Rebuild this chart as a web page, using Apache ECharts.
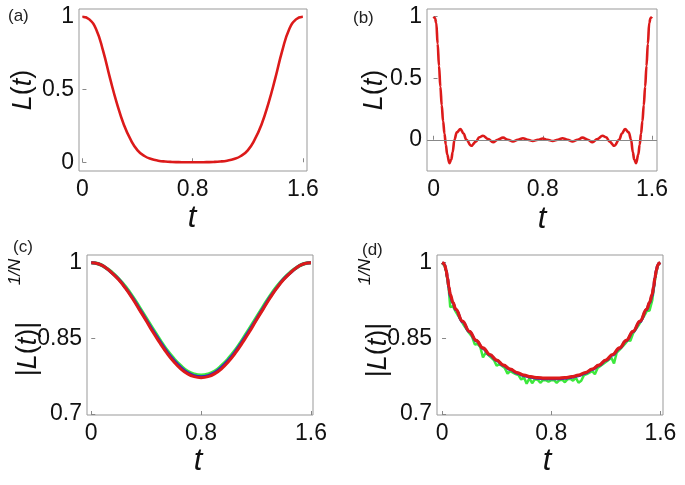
<!DOCTYPE html>
<html><head><meta charset="utf-8">
<script src="https://cdn.jsdelivr.net/npm/echarts@6/dist/echarts.min.js"></script>
<style>html,body{margin:0;padding:0;background:#fff}#c{width:685px;height:485px}</style>
</head><body><div id="c"></div>
<script>
// ---------- data ----------
const xTicks = [0, 0.8, 1.6];
const yTicksAB = [0, 0.5, 1];
const yTicksCD = [0.7, 0.85, 1];

// (a)
const tA = [0,0.05,0.1,0.15,0.2,0.25,0.3,0.35,0.4,0.45,0.5,0.55,0.6,0.65,0.7,0.75,0.8,0.85,0.9,0.95,1.0,1.05,1.1,1.15,1.2,1.25,1.3,1.35,1.4,1.45,1.5,1.55,1.6];
const LA = [1.0,0.982,0.912,0.765,0.578,0.405,0.26,0.155,0.082,0.043,0.022,0.011,0.005,0.002,0.001,0,0,0,0.001,0.002,0.005,0.011,0.022,0.043,0.082,0.155,0.26,0.405,0.578,0.765,0.912,0.982,1.0];

// (b)
const tB = [0,0.01,0.02,0.03,0.04,0.05,0.06,0.07,0.08,0.09,0.10,0.116,0.13,0.14,0.153,0.17,0.197,0.22,0.24,0.276,0.31,0.335,0.362,0.40,0.436,0.47,0.509,0.545,0.582,0.618,0.655,0.69,0.727,0.765,0.80,0.835,0.873,0.91,0.945,0.982,1.018,1.055,1.091,1.13,1.164,1.20,1.238,1.265,1.29,1.324,1.36,1.38,1.403,1.43,1.447,1.46,1.47,1.484,1.50,1.51,1.52,1.53,1.54,1.55,1.56,1.57,1.58,1.59,1.60];
const LB = [1.0,0.99,0.95,0.78,0.60,0.43,0.28,0.15,0.05,-0.04,-0.12,-0.19,-0.16,-0.10,0.0,0.06,0.087,0.05,0.0,-0.049,-0.015,0.02,0.033,0.005,-0.02,0.0,0.017,0.0,-0.013,0.0,0.012,0.0,-0.010,0.0,0.010,0.0,-0.010,0.0,0.012,0.0,-0.013,0.0,0.017,0.0,-0.02,0.005,0.033,0.02,-0.015,-0.049,0.0,0.05,0.087,0.06,0.0,-0.10,-0.16,-0.19,-0.12,-0.04,0.05,0.15,0.28,0.43,0.60,0.78,0.95,0.99,1.0];

// (c)
const tC = tA;
const LC_green = [1.000,0.998,0.991,0.981,0.968,0.952,0.933,0.912,0.890,0.868,0.847,0.827,0.810,0.796,0.785,0.779,0.777,0.779,0.785,0.796,0.810,0.827,0.847,0.868,0.890,0.912,0.933,0.952,0.968,0.981,0.991,0.998,1.000];
const LC_blue  = [1.000,0.998,0.991,0.980,0.967,0.950,0.931,0.909,0.887,0.865,0.844,0.824,0.807,0.793,0.782,0.776,0.774,0.776,0.782,0.793,0.807,0.824,0.844,0.865,0.887,0.909,0.931,0.950,0.967,0.980,0.991,0.998,1.000];
const LC_red   = [1.000,0.998,0.991,0.980,0.966,0.949,0.929,0.907,0.885,0.862,0.841,0.821,0.804,0.790,0.780,0.774,0.772,0.774,0.780,0.790,0.804,0.821,0.841,0.862,0.885,0.907,0.929,0.949,0.966,0.980,0.991,0.998,1.000];

// (d)
const tD = [0,0.01,0.02,0.03,0.04,0.05,0.06,0.08,0.1,0.15,0.2,0.25,0.3,0.35,0.4,0.45,0.5,0.55,0.6,0.65,0.7,0.75,0.8,0.85,0.9,0.95,1.0,1.05,1.1,1.15,1.2,1.25,1.3,1.35,1.4,1.45,1.5,1.52,1.54,1.55,1.56,1.57,1.58,1.59,1.6];
const LD_red  = [1.0,0.999,0.995,0.985,0.970,0.952,0.938,0.921,0.908,0.884,0.864,0.846,0.831,0.818,0.807,0.797,0.789,0.782,0.777,0.774,0.772,0.771,0.771,0.771,0.772,0.774,0.777,0.782,0.789,0.797,0.807,0.818,0.831,0.846,0.864,0.884,0.908,0.921,0.938,0.952,0.970,0.985,0.995,0.999,1.0];
const LD_blue = [1.0,0.999,0.995,0.985,0.970,0.950,0.934,0.920,0.907,0.883,0.863,0.845,0.830,0.817,0.806,0.796,0.788,0.781,0.776,0.773,0.771,0.770,0.770,0.770,0.771,0.773,0.776,0.781,0.788,0.796,0.806,0.817,0.830,0.845,0.863,0.883,0.907,0.920,0.934,0.950,0.970,0.985,0.995,0.999,1.0];
const tDg = [0,0.01,0.02,0.03,0.04,0.05,0.06,0.08,0.10,0.12,0.14,0.16,0.18,0.20,0.22,0.24,0.26,0.28,0.30,0.32,0.34,0.36,0.38,0.40,0.42,0.44,0.46,0.48,0.50,0.52,0.54,0.56,0.58,0.60,0.62,0.64,0.66,0.68,0.70,0.72,0.74,0.76,0.78,0.80,0.82,0.84,0.86,0.88,0.90,0.92,0.94,0.96,0.98,1.00,1.02,1.04,1.06,1.08,1.10,1.12,1.14,1.16,1.18,1.20,1.22,1.24,1.26,1.28,1.30,1.32,1.34,1.36,1.38,1.40,1.42,1.44,1.46,1.48,1.50,1.52,1.54,1.55,1.56,1.57,1.58,1.59,1.60];
const LD_green = [1.0,0.998,0.993,0.982,0.965,0.945,0.912,0.914,0.903,0.894,0.885,0.876,0.868,0.860,0.853,0.838,0.839,0.833,0.812,0.822,0.817,0.812,0.807,0.796,0.799,0.795,0.791,0.780,0.785,0.782,0.779,0.777,0.768,0.773,0.760,0.771,0.761,0.769,0.768,0.762,0.767,0.767,0.764,0.767,0.767,0.762,0.767,0.768,0.763,0.769,0.770,0.766,0.772,0.762,0.766,0.777,0.779,0.782,0.785,0.779,0.791,0.795,0.799,0.803,0.807,0.812,0.800,0.822,0.827,0.833,0.839,0.846,0.845,0.860,0.868,0.876,0.885,0.894,0.904,0.905,0.925,0.945,0.965,0.982,0.993,0.998,1.0];

// ---------- chart ----------
const RED = '#dc1a1a', GREEN = '#3de83d', BLUE = '#2a2acc';
const FONT = '"Liberation Sans", Arial, sans-serif';
const zip = (xs, ys) => xs.map((x, i) => [x, ys[i]]);

const grids = [
  {left: 79, top: 9, width: 228, height: 162},
  {left: 427, top: 9, width: 230, height: 162},
  {left: 87, top: 255, width: 226, height: 160},
  {left: 437, top: 255, width: 226, height: 160}
];
const xr = [[-0.025, 1.63], [-0.048, 1.637], [-0.031, 1.615], [-0.037, 1.619]];
const yr = [[-0.06, 1.053], [-0.254, 1.063], [0.698, 1.0153], [0.698, 1.0153]];
const yt = [yTicksAB, yTicksAB, yTicksCD, yTicksCD];

const tickStyle = {show: true, inside: true, length: 4, lineStyle: {color: '#888', width: 1}};
const labStyle = {fontSize: 23, color: '#111', fontFamily: FONT};

const option = {
  animation: false,
  backgroundColor: '#fff',
  grid: grids.map(g => Object.assign({show: true, borderColor: '#999', borderWidth: 1, containLabel: false}, g)),
  xAxis: grids.map((g, i) => ({
    type: 'value', gridIndex: i, min: xr[i][0], max: xr[i][1],
    axisLine: {show: false}, splitLine: {show: false},
    axisTick: Object.assign({customValues: xTicks}, tickStyle),
    axisLabel: Object.assign({customValues: xTicks, margin: 7, formatter: v => String(v)}, labStyle)
  })),
  yAxis: grids.map((g, i) => ({
    type: 'value', gridIndex: i, min: yr[i][0], max: yr[i][1],
    axisLine: {show: false}, splitLine: {show: false},
    axisTick: Object.assign({customValues: yt[i]}, tickStyle),
    axisLabel: Object.assign({customValues: yt[i], margin: 5, formatter: v => String(v)}, labStyle)
  })),
  series: [
    {type: 'line', xAxisIndex: 0, yAxisIndex: 0, data: zip(tA, LA), smooth: 0.5, showSymbol: false,
     lineStyle: {color: RED, width: 2.6}},
    {type: 'line', xAxisIndex: 1, yAxisIndex: 1, data: zip(tB, LB), smooth: 0.4, smoothMonotone: 'x', showSymbol: false,
     lineStyle: {color: RED, width: 2.6},
     markLine: {silent: true, symbol: 'none', label: {show: false}, lineStyle: {color: '#888', width: 1, type: 'solid'},
       data: [{yAxis: 0}]}, z: 3},
    {type: 'line', xAxisIndex: 2, yAxisIndex: 2, data: zip(tC, LC_green), smooth: 0.5, showSymbol: false,
     lineStyle: {color: GREEN, width: 3.5}},
    {type: 'line', xAxisIndex: 2, yAxisIndex: 2, data: zip(tC, LC_blue), smooth: 0.5, showSymbol: false,
     lineStyle: {color: BLUE, width: 3}},
    {type: 'line', xAxisIndex: 2, yAxisIndex: 2, data: zip(tC, LC_red), smooth: 0.5, showSymbol: false,
     lineStyle: {color: RED, width: 3}},
    {type: 'line', xAxisIndex: 3, yAxisIndex: 3, data: zip(tDg, LD_green), smooth: false, showSymbol: false,
     lineStyle: {color: GREEN, width: 2.5}},
    {type: 'line', xAxisIndex: 3, yAxisIndex: 3, data: zip(tD, LD_blue), smooth: 0.4, smoothMonotone: 'x', showSymbol: false,
     lineStyle: {color: BLUE, width: 3}},
    {type: 'line', xAxisIndex: 3, yAxisIndex: 3, data: zip(tD, LD_red), smooth: 0.4, smoothMonotone: 'x', showSymbol: false,
     lineStyle: {color: RED, width: 3.2}}
  ],
  graphic: []
};

const panelLabel = (txt, x, y) => ({type: 'text', x: x, y: y, style: {text: txt, fontSize: 17, fontFamily: FONT, fill: '#222', align: 'left', verticalAlign: 'middle'}});
const tLabel = (x, y) => ({type: 'text', x: x, y: y, style: {text: 't', fontSize: 31, fontStyle: 'italic', fontFamily: FONT, fill: '#111', align: 'center', verticalAlign: 'middle'}});
const richDef = {
  i: {fontSize: 27, fontStyle: 'italic', fontFamily: FONT, fill: '#111'},
  n: {fontSize: 27, fontFamily: FONT, fill: '#111'}
};
const LtLabel = (x, y) => ({type: 'text', x: x, y: y, rotation: Math.PI / 2,
  style: {text: '{i|L}{n|(}{i|t}{n|)}', rich: richDef, align: 'center', verticalAlign: 'middle'}});
const absLabel = (x, y, sx, sy) => [
  {type: 'text', x: x, y: y, rotation: Math.PI / 2,
   style: {text: '{n||}{i|L}{n|(}{i|t}{n|)|}', rich: richDef, align: 'center', verticalAlign: 'middle'}},
  {type: 'text', x: sx, y: sy, rotation: Math.PI / 2,
   style: {text: '1/N', fontSize: 17, fontStyle: 'italic', fontFamily: FONT, fill: '#111', align: 'center', verticalAlign: 'middle'}}
];

option.graphic = [
  panelLabel('(a)', 8, 16), panelLabel('(b)', 353, 18), panelLabel('(c)', 13, 247), panelLabel('(d)', 362, 250),
  tLabel(192, 218), tLabel(542, 219), tLabel(198, 461), tLabel(547, 461),
  LtLabel(23, 90), LtLabel(374, 90),
  ...absLabel(28, 349, 15, 272), ...absLabel(378, 350, 365, 272)
];

const chart = echarts.init(document.getElementById('c'), null, {renderer: 'canvas'});
chart.setOption(option);
</script>
</body></html>
